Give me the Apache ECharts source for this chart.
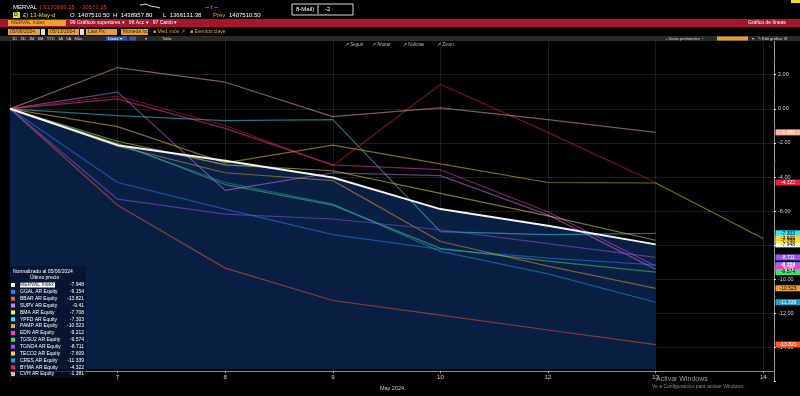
<!DOCTYPE html>
<html><head><meta charset="utf-8">
<script src="https://cdn.jsdelivr.net/npm/echarts@6/dist/echarts.min.js"></script>
<style>html,body{margin:0;padding:0;background:#000;overflow:hidden}#c{width:800px;height:396px}</style>
</head><body><div id="c"></div>
<script>
// ---- data ----
const categories = ['6', '7', '8', '9', '10', '12', '13', '14'];
const xAxisTitle = 'May 2024';
const legendTitle = 'Normalizado al 05/06/2024';
const legendSub = 'Último precio';
const seriesNames = ['MERVAL Index', 'GGAL AR Equity', 'BBAR AR Equity', 'SUPV AR Equity', 'BMA AR Equity',
  'YPFD AR Equity', 'PAMP AR Equity', 'EDN AR Equity', 'TGSU2 AR Equity', 'TGNO4 AR Equity',
  'TECO2 AR Equity', 'CRES AR Equity', 'BYMA AR Equity', 'CVH AR Equity'];
const lastLabels = ['-7.948', '-9.154', '-13.821', '-9.41', '-7.708', '-7.303', '-10.523', '-9.212',
  '-9.574', '-8.711', '-7.609', '-11.339', '-4.322', '-1.381'];
const merval = [0, -2.13, -3.05, -4.03, -5.88, -6.86, -7.948];
const ggal   = [0, -4.32, -5.88, -7.38, -8.24, -8.76, -9.154];
const bbar   = [0, -5.65, -9.34, -11.24, -12.10, -12.97, -13.821];
const supv   = [0, 0.98, -4.78, -3.75, -3.92, -6.22, -9.41];
const bma    = [0, -1.90, -3.29, -3.63, -4.96, -6.28, -7.708];
const ypfd   = [0, -0.40, -0.69, -0.63, -7.20, -7.38, -7.303];
const pamp   = [0, -2.19, -3.75, -4.21, -7.78, -9.22, -10.523];
const edn    = [0, 0.58, -1.15, -3.29, -3.57, -6.05, -9.212];
const tgsu2  = [0, -2.02, -4.44, -5.65, -8.18, -8.93, -9.574];
const tgno4  = [0, -5.30, -6.17, -6.46, -7.09, -7.90, -8.711];
const teco2  = [0, -1.04, -3.17, -2.13, -3.23, -4.32, -4.35, -7.609];
const cres   = [0, -2.07, -4.32, -5.59, -8.36, -9.68, -11.339];
const byma   = [0, 0.75, -0.98, -3.34, 1.44, -1.38, -4.322];
const cvh    = [0, 2.42, 1.56, -0.46, 0.06, -0.63, -1.381];
const seriesValues = [merval, ggal, bbar, supv, bma, ypfd, pamp, edn, tgsu2, tgno4, teco2, cres, byma, cvh];

// ---- styles ----
const colors = ['#ffffff', '#2a7fff', '#ff5a1f', '#c77dff', '#f5f542', '#33e6ff', '#f0a030', '#ff3dc8',
  '#3ee070', '#9a55e8', '#ffd23a', '#1aa3c8', '#e8203c', '#ffb59a'];
const tagText = ['#000', '#fff', '#fff', '#fff', '#000', '#000', '#000', '#fff', '#000', '#fff', '#000', '#fff', '#fff', '#fff'];
const FONT = '"Liberation Sans", Arial, sans-serif';
const X_MAX = 7.1;

function pairs(arr) { return arr.map((v, i) => [i, v]); }

const series = [];
series.push({
  name: '__fill', type: 'line', data: pairs(merval), symbol: 'none', z: 1, silent: true,
  lineStyle: { width: 0, opacity: 0 },
  areaStyle: { color: '#0a1f44', opacity: 1, origin: -15.27 }
});
seriesNames.forEach((name, k) => {
  const vals = seriesValues[k];
  const isM = k === 0;
  series.push({
    name, type: 'line', data: pairs(vals), symbol: 'none', silent: true,
    z: isM ? 5 : 3,
    lineStyle: { color: isM ? '#f2f2f2' : colors[k], width: isM ? 2 : 1.2, opacity: isM ? 1 : 0.5 },
    itemStyle: { color: colors[k] },
    markPoint: {
      symbol: 'rect', symbolSize: [25, 6], symbolOffset: [14, 0], silent: true, z: 10,
      itemStyle: { color: colors[k] },
      label: { show: true, position: 'inside', formatter: lastLabels[k], fontSize: 5, fontFamily: FONT, color: tagText[k] },
      data: [{ coord: [X_MAX, vals[vals.length - 1]] }]
    }
  });
});

function t(x, y, text, fill, size, extra) {
  return Object.assign({ type: 'text', x, y, z: 100, silent: true,
    style: { text, fill, font: (size || 6) + 'px ' + FONT, verticalAlign: 'middle' } }, extra || {});
}
function r(x, y, w, h, fill, extra) {
  return Object.assign({ type: 'rect', x, y, z: 99, silent: true, shape: { width: w, height: h }, style: { fill } }, extra || {});
}

const graphic = [
  t(13, 7, 'MERVAL', '#ffffff', 6),
  t(40, 7, '| $170699.25   -30571.25', '#e23040', 6),
  { type: 'polyline', z: 100, silent: true, shape: { points: [[140, 5], [146, 4], [150, 6], [156, 7], [160, 8]] }, style: { stroke: '#ddd', lineWidth: 1, fill: null } },
  t(205, 7, '-- / --', '#cccccc', 6),
  r(292, 4, 61, 11, 'none', { style: { fill: 'none', stroke: '#dddddd', lineWidth: 1 } }),
  t(296, 9.5, '8-Mail)', '#ffffff', 6),
  { type: 'line', z: 100, silent: true, shape: { x1: 318, y1: 5, x2: 318, y2: 14 }, style: { stroke: '#ddd' } },
  t(325, 9.5, '-2', '#ffffff', 6),
  r(791, 0, 9, 3, '#e8e020'),
  r(13, 12, 7, 6, '#e8d820'),
  t(14, 15, 'D', '#000', 5),
  t(23, 15, '£) 13-May-d', '#e8d060', 6),
  t(70, 15, 'O  1407510.50', '#ffffff', 6),
  t(113, 15, 'H  1438957.80', '#ffffff', 6),
  t(163, 15, 'L  1366131.38', '#ffffff', 6),
  t(213, 15, 'Prev', '#e8a030', 6),
  t(229, 15, '1407510.50', '#ffffff', 6),
  r(0, 19, 800, 8, '#a8162e'),
  r(8, 20, 58, 6, '#f0a030', { z: 100 }),
  t(11, 23, 'MERVAL Index', '#5a3000', 5, { z: 101 }),
  t(70, 23, '99 Gráficos superiores ▾   96 Acc ▾   97 Camb ▾', '#ffffff', 5),
  t(748, 23, 'Gráfico de líneas', '#ffffff', 5),
  r(8, 29, 32, 6, '#e8a02a', { z: 100 }), t(10, 32, '05/06/2024', '#3a2000', 5, { z: 101 }),
  r(41, 29, 4, 6, '#dddddd', { z: 100 }),
  r(48, 29, 31, 6, '#e8a02a', { z: 100 }), t(50, 32, '05/13/2024', '#3a2000', 5, { z: 101 }),
  r(80, 29, 4, 6, '#dddddd', { z: 100 }),
  r(86, 29, 31, 6, '#e8a02a', { z: 100 }), t(88, 32, 'Last Px', '#3a2000', 5, { z: 101 }),
  r(121, 29, 27, 6, '#e8a02a', { z: 100 }), t(123, 32, 'Moneda local', '#3a2000', 5, { z: 101 }),
  t(153, 32, '■ Med. móv ↗', '#e8a02a', 5),
  t(190, 32, '■ Eventos clave', '#e8a02a', 5),
  r(0, 36, 800, 5, '#2a2a2a'),
  t(12, 38.5, '1D   3D   1M   6M   YTD   1A   5A   Máx', '#dddddd', 4),
  r(106, 36.5, 21, 4, '#2a5cc0', { z: 100 }), t(108, 38.5, 'Diario ▾', '#ffffff', 4, { z: 101 }),
  r(129, 36.5, 7, 4, '#2a5cc0', { z: 100 }),
  t(145, 38.5, '▾', '#dddddd', 4),
  t(162, 38.5, 'Tabla', '#dddddd', 4),
  t(665, 38.5, '+ Datos pertinentes  ›', '#dddddd', 4),
  r(717, 36.5, 31, 4, '#e8a02a', { z: 100 }),
  t(752, 38.5, '▾', '#dddddd', 4),
  t(758, 38.5, '✎ Edit gráfico  ⚙', '#dddddd', 4),
  t(345, 45, '↗ Seguir', '#bbbbbb', 4.5),
  t(372, 45, '↗ Anotar', '#bbbbbb', 4.5),
  t(403, 45, '↗ Noticias', '#bbbbbb', 4.5),
  t(437, 45, '↗ Zoom', '#bbbbbb', 4.5),
  r(10, 266, 76, 112, 'rgba(6,18,42,0.7)', { z: 2 }),
  t(13, 272, legendTitle, '#ffffff', 5, { z: 20 }),
  t(30, 278, legendSub, '#ffffff', 5, { z: 20 }),
  t(656, 379, 'Activar Windows', '#9a9a9a', 7, { z: 120 }),
  t(652, 387, 'Ve a Configuración para activar Windows.', '#8a8a8a', 5, { z: 120 })
];

const legendData = seriesNames.map((n, k) => ({ name: n, icon: 'rect', itemStyle: { color: colors[k], opacity: 1 } }));

const chart = echarts.init(document.getElementById('c'), null, { renderer: 'canvas' });
chart.setOption({
  backgroundColor: '#000000',
  animation: false,
  textStyle: { fontFamily: FONT },
  grid: { left: 10, right: 26, top: 40.6, bottom: 8.4 },
  xAxis: {
    type: 'value', min: 0, max: X_MAX, interval: 1, offset: -10.6,
    name: xAxisTitle, nameLocation: 'middle', nameGap: 11,
    nameTextStyle: { color: '#cccccc', fontSize: 5.5 },
    axisLine: { show: true, onZero: false, lineStyle: { color: '#8a8a8a', width: 1 } },
    axisTick: { show: true, length: 2, lineStyle: { color: '#aaa' } },
    axisLabel: { color: '#cccccc', fontSize: 6, margin: 3, showMaxLabel: false,
      formatter: v => (Number.isInteger(v) && v > 0 && v < categories.length) ? categories[v] : '' },
    splitLine: { show: true, lineStyle: { color: 'rgba(110,120,150,0.22)', width: 1 } }
  },
  yAxis: {
    type: 'value', position: 'right', min: -16, max: 4, interval: 2,
    axisLine: { show: true, onZero: false, lineStyle: { color: '#9a9a9a', width: 1 } },
    axisTick: { show: true, length: 2, lineStyle: { color: '#dddddd' } },
    minorTick: { show: true, splitNumber: 2, length: 1.5, lineStyle: { color: '#777' } },
    axisLabel: { color: '#d8d8d8', fontSize: 5.5, margin: 4,
      formatter: v => (v >= 4 || v <= -16) ? '' : v.toFixed(2) },
    splitLine: { show: true, showMinLine: false, showMaxLine: false, lineStyle: { color: 'rgba(130,130,130,0.22)', width: 1 } }
  },
  legend: {
    data: legendData, orient: 'vertical', left: 11, top: 282, padding: 0,
    itemWidth: 4, itemHeight: 4, itemGap: 0.85, selectedMode: false,
    textStyle: { color: '#ffffff', fontSize: 5, lineHeight: 6,
      rich: {
        n: { width: 46, fontSize: 5, color: '#fff' },
        h: { width: 35, fontSize: 5, color: '#102040', backgroundColor: '#ffffff' },
        g: { width: 11, fontSize: 5 },
        v: { width: 18, fontSize: 5, align: 'right', color: '#fff' }
      } },
    formatter: name => {
      const k = seriesNames.indexOf(name);
      return k === 0 ? `{h|${name}}{g|}{v|${lastLabels[k]}}` : `{n|${name}}{v|${lastLabels[k]}}`;
    },
    z: 20
  },
  graphic,
  series
});
</script></body></html>
